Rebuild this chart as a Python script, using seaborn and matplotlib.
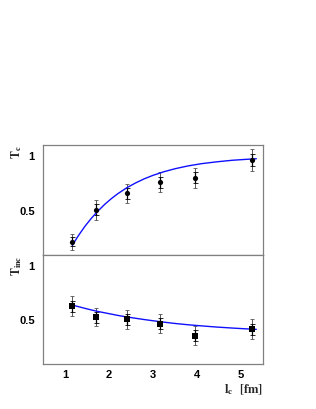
import numpy as np
import matplotlib
matplotlib.use("Agg")
from matplotlib import pyplot as plt
import seaborn as sns

# measured points (l_c in fm)
lc = [1.17, 1.70, 2.40, 3.15, 3.95, 5.25]
tc = [0.22, 0.51, 0.66, 0.76, 0.80, 0.96]
tc_err_in = [0.04, 0.05, 0.05, 0.05, 0.05, 0.055]
tc_err_out = [0.07, 0.09, 0.085, 0.09, 0.09, 0.10]
tinc = [0.63, 0.53, 0.51, 0.47, 0.36, 0.42]
tinc_err_in = [0.05, 0.05, 0.05, 0.05, 0.05, 0.05]
tinc_err_out = [0.09, 0.085, 0.085, 0.085, 0.085, 0.09]

# fitted curves
fit_x = [1.17, 1.3, 1.45, 1.6, 1.75, 1.9, 2.05, 2.2, 2.4, 2.6, 2.8, 3.0,
         3.25, 3.5, 3.8, 4.1, 4.45, 4.8, 5.1, 5.35]
fit_tc = [0.19, 0.273, 0.359, 0.434, 0.50, 0.559, 0.611, 0.657, 0.71, 0.754,
          0.792, 0.824, 0.857, 0.884, 0.91, 0.93, 0.947, 0.961, 0.969, 0.975]
fit_tinc = [0.64, 0.627, 0.611, 0.596, 0.582, 0.57, 0.558, 0.546, 0.532,
            0.52, 0.508, 0.497, 0.484, 0.472, 0.46, 0.45, 0.439, 0.43, 0.423,
            0.418]

sns.set_style("white")
plt.rcParams['mathtext.fontset'] = 'stix'
plt.rcParams['font.family'] = ['Liberation Sans', 'DejaVu Sans']

fig = plt.figure(figsize=(3.16, 4.09), dpi=100)
ax1 = fig.add_axes([0.136, 0.3765, 0.696, 0.269])
ax2 = fig.add_axes([0.136, 0.110, 0.696, 0.2665])

frame = '#808080'
for ax, y, ein, eout, fy, mk, lab in [
        (ax1, tc, tc_err_in, tc_err_out, fit_tc, 'o', r'$\mathbf{T_{c}}$'),
        (ax2, tinc, tinc_err_in, tinc_err_out, fit_tinc, 's', r'$\mathbf{T_{inc}}$')]:
    ax.errorbar(lc, y, yerr=eout, fmt='none', ecolor='#555555', elinewidth=0.7,
                capsize=1.5, capthick=0.6)
    ax.errorbar(lc, y, yerr=ein, fmt='none', ecolor='black', elinewidth=0.9,
                capsize=1.8, capthick=0.6)
    sns.lineplot(x=fit_x, y=fy, ax=ax, color='#1010ff', lw=1.0)
    sns.scatterplot(x=lc, y=y, ax=ax, marker=mk, color='black', s=14,
                    edgecolor='black', linewidth=0, zorder=5)
    ax.set_xlim(0.5, 5.5)
    ax.set_ylim(0.1, 1.1)
    ax.set_yticks([0.5, 1])
    ax.set_yticklabels(['0.5', '1'])
    ax.set_xticks([1, 2, 3, 4, 5])
    ax.tick_params(axis='both', direction='in', labelsize=8, width=0.6,
                   colors=frame, labelcolor='black')
    ax.tick_params(axis='x', length=4, pad=4)
    ax.tick_params(axis='y', length=3, pad=6)
    for t in ax.get_xticklabels() + ax.get_yticklabels():
        t.set_fontweight('bold')
    for s in ax.spines.values():
        s.set_color(frame)
        s.set_linewidth(0.9)
    ax.set_ylabel(lab, fontsize=8.5, rotation=90, loc='top')
    ax.yaxis.set_label_coords(-0.085, 1.0)

ax1.tick_params(axis='x', labelbottom=False)
ax2.set_xlabel(r'$\mathbf{l_{c}}$  $\mathbf{[fm]}$', fontsize=9, loc='right')
ax2.xaxis.set_label_coords(1.0, -0.17)

fig.savefig('out.png', dpi=100)
